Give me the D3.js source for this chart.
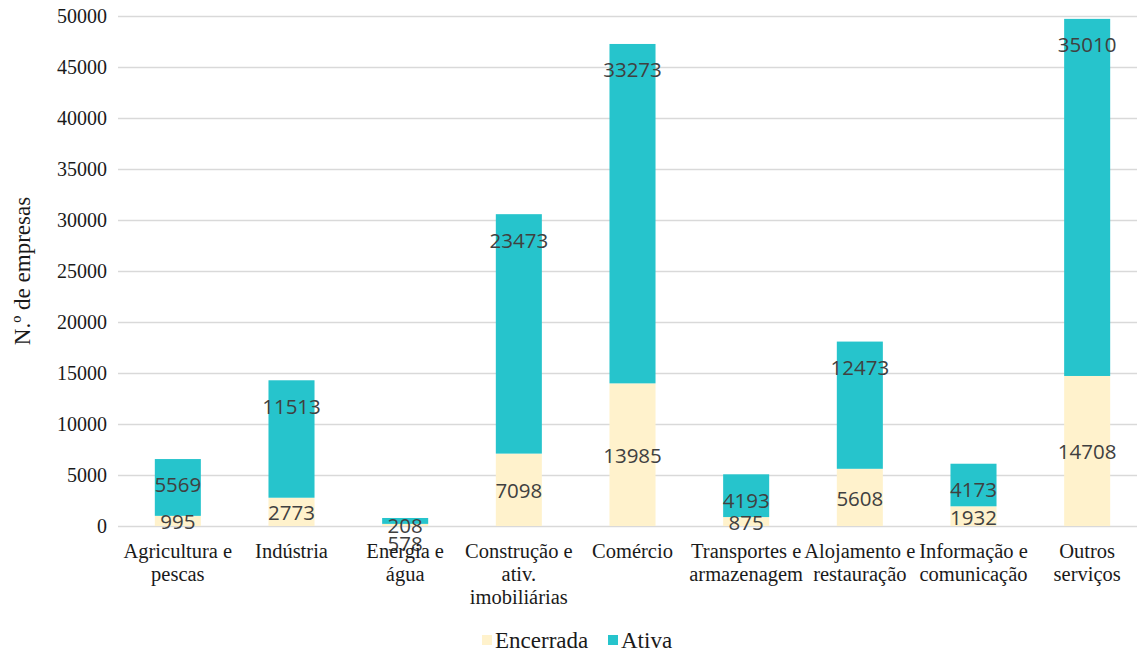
<!DOCTYPE html>
<html>
<head>
<meta charset="utf-8">
<script src="https://cdn.jsdelivr.net/npm/d3@7.9.0/dist/d3.min.js"></script>
<style>
  body { margin: 0; background: #fff; }
  svg { display: block; }
  .serif { font-family: "Liberation Serif", "Times New Roman", Times, "DejaVu Serif", serif; }
  .sans { font-family: "Open Sans", "Noto Sans", sans-serif; }
</style>
</head>
<body>
<div id="chart"></div>
<script>
// data
const categories = [
  ["Agricultura e", "pescas"],
  ["Indústria"],
  ["Energia e", "água"],
  ["Construção e", "ativ.", "imobiliárias"],
  ["Comércio"],
  ["Transportes e", "armazenagem"],
  ["Alojamento e", "restauração"],
  ["Informação e", "comunicação"],
  ["Outros", "serviços"]
];
const encerrada = [995, 2773, 208, 7098, 13985, 875, 5608, 1932, 14708];
const ativa     = [5569, 11513, 578, 23473, 33273, 4193, 12473, 4173, 35010];
const seriesNames = ["Encerrada", "Ativa"];
const yTicks = [0, 5000, 10000, 15000, 20000, 25000, 30000, 35000, 40000, 45000, 50000];

const W = 1137, H = 655;
const plot = { left: 121, right: 1144, top: 16, bottom: 526 };

const color = d3.scaleOrdinal()
  .domain(seriesNames)
  .range(["#fff2cc", "#26c4cc"]);

const svg = d3.select("#chart")
  .append("svg")
    .attr("width", W)
    .attr("height", H);

const keys = categories.map((c, i) => i);

const x = d3.scaleBand()
  .domain(keys)
  .range([plot.left, plot.right])
  .padding(0);

const barW = x.bandwidth() * 0.405;

const y = d3.scaleLinear()
  .domain([0, 50000])
  .range([plot.bottom, plot.top]);

// gridlines + y tick labels
const yAxis = svg.append("g")
  .attr("transform", `translate(${plot.left - 3},0)`)
  .call(d3.axisLeft(y).tickValues(yTicks).tickFormat(d3.format("d")).tickSize(-(W - plot.left + 3)).tickPadding(11));

yAxis.select(".domain").remove();
yAxis.attr("font-family", null).attr("font-size", null).attr("class", "serif");
yAxis.selectAll(".tick line").attr("stroke", "#d9d9d9").attr("stroke-width", 1.3);
yAxis.selectAll(".tick text")
  .attr("fill", "#1a1a1a")
  .style("font-size", "20px");

// stacked data
const rows = keys.map(i => ({ i, Encerrada: encerrada[i], Ativa: ativa[i] }));
const stacked = d3.stack().keys(seriesNames)(rows);

const layers = svg.selectAll(".layer")
  .data(stacked)
  .join("g")
    .attr("class", "layer")
    .attr("fill", d => color(d.key));

layers.selectAll("rect")
  .data(d => d)
  .join("rect")
    .attr("x", d => x(d.data.i) + (x.bandwidth() - barW) / 2)
    .attr("y", d => y(d[1]))
    .attr("width", barW)
    .attr("height", d => y(d[0]) - y(d[1]));

// data labels: Encerrada centred, Ativa near the inside end
const labelG = svg.append("g")
  .attr("class", "sans")
  .style("font-size", "20.5px")
  .attr("fill", "#404040")
  .attr("text-anchor", "middle");

stacked.forEach(layer => {
  layer.forEach(d => {
    const cy = layer.key === "Ativa"
      ? y(d[1]) + 26
      : (y(d[0]) + y(d[1])) / 2 + 1;
    labelG.append("text")
      .attr("x", x(d.data.i) + x.bandwidth() / 2)
      .attr("y", cy)
      .attr("dy", "0.36em")
      .text(d[1] - d[0]);
  });
});

// category labels
const catG = svg.append("g")
  .attr("class", "serif")
  .style("font-size", "20.5px")
  .attr("fill", "#1a1a1a")
  .attr("text-anchor", "middle");

categories.forEach((lines, i) => {
  const t = catG.append("text")
    .attr("x", x(i) + x.bandwidth() / 2)
    .attr("y", plot.bottom + 32);
  lines.forEach((ln, k) => {
    t.append("tspan")
      .attr("x", x(i) + x.bandwidth() / 2)
      .attr("dy", k === 0 ? 0 : 23)
      .text(ln);
  });
});

// y axis title
svg.append("text")
  .attr("class", "serif")
  .attr("transform", `translate(30,${(plot.top + plot.bottom) / 2}) rotate(-90)`)
  .attr("text-anchor", "middle")
  .style("font-size", "23px")
  .attr("fill", "#1a1a1a")
  .text("N.º de empresas");

// legend
const legend = svg.append("g")
  .attr("class", "serif")
  .style("font-size", "23px")
  .attr("fill", "#1a1a1a");

const legendX = [482, 608];
seriesNames.forEach((name, k) => {
  const g = legend.append("g").attr("transform", `translate(${legendX[k]},640)`);
  g.append("rect")
    .attr("x", 0).attr("y", -5)
    .attr("width", 10).attr("height", 10)
    .attr("fill", color(name));
  g.append("text")
    .attr("x", 13)
    .attr("y", 0)
    .attr("dy", "0.35em")
    .text(name);
});
</script>
</body>
</html>
